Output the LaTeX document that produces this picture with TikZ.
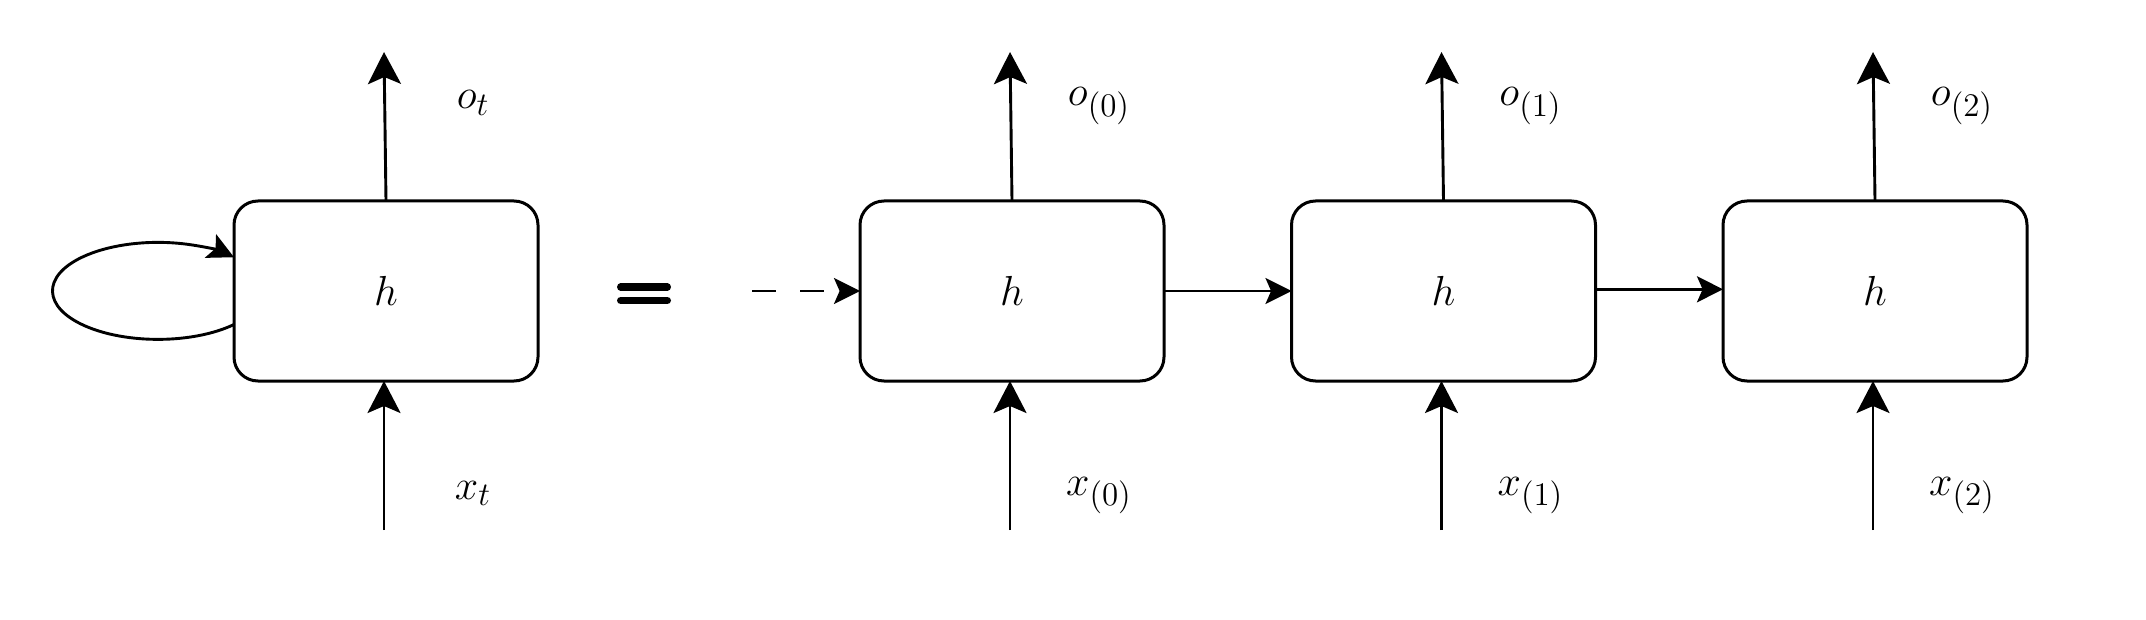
\RequirePackage{fix-cm}
\documentclass[tikz,border=0pt]{standalone}
\usetikzlibrary{arrows.meta}
\DeclareMathSizes{21}{21}{16.5}{13}
\begin{document}
\begin{tikzpicture}[x=0.5pt,y=-0.5pt,
  cell/.style={draw, line width=1.5pt, rounded corners=12pt, minimum width=152pt,
    minimum height=90pt, inner sep=0pt, outer sep=0pt, font=\fontsize{21}{25}\selectfont},
  lbl/.style={inner sep=0pt, anchor=base, font=\fontsize{21}{25}\selectfont},
  varr/.style={line width=1.45pt, -{Stealth[length=16pt, width=16.5pt, inset=3.5pt]}},
  harr/.style={line width=1.45pt, -{Stealth[length=13pt, width=13pt, inset=2.8pt]}},
  eqbar/.style={line width=3.75pt, line cap=round}
]
\useasboundingbox (0,0) rectangle (2146,620);

% cells
\node[cell] (b1) at (386,291) {$h$};
\node[cell] (b2) at (1012,291) {$h$};
\node[cell] (b3) at (1443.5,291) {$h$};
\node[cell] (b4) at (1875,291) {$h$};

% free ends
\coordinate (ot1) at (384,52);
\coordinate (ot2) at (1010,52);
\coordinate (ot3) at (1441.5,52);
\coordinate (ot4) at (1873,52);
\coordinate (in1) at (384,530);
\coordinate (in2) at (1010,530);
\coordinate (in3) at (1441.5,530);
\coordinate (in4) at (1873,530);
\coordinate (d0) at (752,291);

% outputs and inputs
\draw[varr] (b1.north) -- (ot1);
\draw[varr] (b2.north) -- (ot2);
\draw[varr] (b3.north) -- (ot3);
\draw[varr] (b4.north) -- (ot4);
\draw[varr] (in1) -- (in1 |- b1.south);
\draw[varr] (in2) -- (in2 |- b2.south);
\draw[varr] (in3) -- (in3 |- b3.south);
\draw[varr] (in4) -- (in4 |- b4.south);

% recurrent connections
\draw[harr] ([yshift=-16.75pt]b1.west) arc[start angle=-43.9, end angle=-316.1, x radius=52.75pt, y radius=24.25pt];
\draw[harr, dash pattern=on 12pt off 12pt] (d0) -- (b2.west);
\draw[harr] (b2.east) -- (b3.west);
\draw[harr] ([yshift=0.85pt]b3.east) -- ([yshift=0.85pt]b4.west);

% equals sign
\draw[eqbar] (620.75,287) -- (667.25,287);
\draw[eqbar] (620.75,300.5) -- (667.25,300.5);

% labels
\node[lbl] (lo1) at (473,109) {$o_t$};
\node[lbl] (lo2) at (1099,106) {$o_{(0)}$};
\node[lbl] (lo3) at (1530.5,106) {$o_{(1)}$};
\node[lbl] (lo4) at (1962,106) {$o_{(2)}$};
\node[lbl] (lx1) at (473,499) {$x_t$};
\node[lbl] (lx2) at (1099,495) {$x_{(0)}$};
\node[lbl] (lx3) at (1530.5,495) {$x_{(1)}$};
\node[lbl] (lx4) at (1962,495) {$x_{(2)}$};
\end{tikzpicture}
\end{document}
